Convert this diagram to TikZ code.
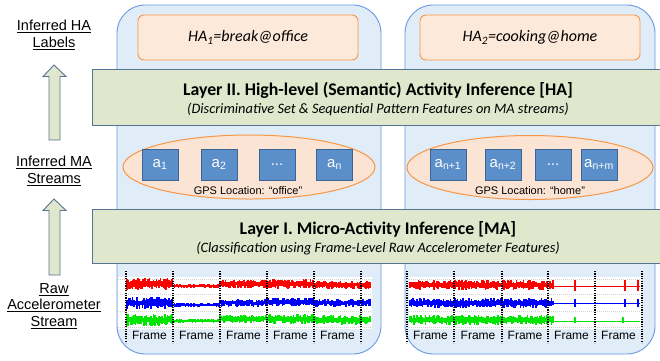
\documentclass[tikz,border=0pt]{standalone}
\usepackage{fontspec}
\setmainfont{Liberation Sans}
\newfontfamily\calfont{Carlito}
\usetikzlibrary{shapes.geometric}
\definecolor{contfill}{RGB}{224,237,248}
\definecolor{contdraw}{RGB}{104,152,226}
\definecolor{hafill}{RGB}{253,233,217}
\definecolor{hadraw}{RGB}{247,150,70}
\definecolor{bandfill}{RGB}{223,231,204}
\definecolor{banddraw}{RGB}{88,116,148}
\definecolor{sqfill}{RGB}{91,143,201}
\definecolor{sqdraw}{RGB}{58,100,150}
\definecolor{ellfill}{RGB}{252,228,213}
\definecolor{sigred}{RGB}{255,0,0}
\definecolor{sigblue}{RGB}{0,0,255}
\definecolor{siggreen}{RGB}{0,230,0}
\newcommand\sigseg[5]{%
  \pgfmathtruncatemacro\nn{(#2-#1)/1.4}%
  \draw[#4,line width=1pt] (#1,#3) -- (#2,#3);
  \foreach \k in {0,...,\nn}{%
    \pgfmathsetmacro\xx{#1+1.4*\k}%
    \pgfmathsetmacro\hu{#5*(0.35+0.65*rnd)}%
    \pgfmathsetmacro\hd{#5*(0.3+0.7*rnd)}%
    \draw[#4,line width=1.6pt] (\xx,#3-\hu) -- (\xx,#3+\hd);
  }}
\begin{document}
\begin{tikzpicture}[x=1pt,y=-1pt,
  container/.style={draw=contdraw,fill=contfill,line width=0.9pt,rounded corners=28pt},
  band/.style={draw=banddraw,fill=bandfill,line width=0.9pt},
  habox/.style={draw=hadraw,fill=hafill,line width=0.9pt,rounded corners=6pt,minimum width=220pt,minimum height=45pt,font=\calfont\itshape\fontsize{16}{18}\selectfont},
  ell/.style={ellipse,draw=hadraw,fill=ellfill,line width=1pt,minimum width=252pt,minimum height=64pt},
  sq/.style={draw=sqdraw,fill=sqfill,line width=0.8pt,minimum width=36pt,minimum height=31pt,text=white,font=\fontsize{15}{16}\selectfont,inner sep=0pt},
  gps/.style={font=\fontsize{11}{13}\selectfont},
  sidelab/.style={align=center,font=\fontsize{14.5}{16.5}\selectfont},
  ttl/.style={font=\calfont\bfseries\fontsize{17.8}{20}\selectfont},
  sub/.style={font=\calfont\itshape\fontsize{14.4}{16}\selectfont},
  uparrow/.style={draw=banddraw,fill=bandfill,line width=0.9pt},
  vdot/.style={black,line width=1.4pt,dash pattern=on 1.2pt off 1.2pt},
  framelab/.style={font=\fontsize{12}{13}\selectfont,inner sep=0pt},
  grid/.style={gray!35,line width=0.3pt,dash pattern=on 1pt off 1pt}
]
\useasboundingbox (0,0) rectangle (660,360);
\fill[white] (0,0) rectangle (660,360);
\pgfmathsetseed{11}

% side labels
\node[sidelab] (labHA) at (54,35) {\underline{Inferred HA}\\\underline{Labels}};
\node[sidelab] (labMA) at (54,171) {\underline{Inferred MA}\\\underline{Streams}};
\node[sidelab] (labRaw) at (54,306) {\underline{Raw}\\\underline{Accelerometer}\\\underline{Stream}};
% up arrows
\draw[uparrow] (54,65) -- (66,76.5) -- (60,76.5) -- (60,140) -- (49,140) -- (49,76.5) -- (43,76.5) -- cycle;
\draw[uparrow] (54,199) -- (66,210.5) -- (60,210.5) -- (60,275) -- (49,275) -- (49,210.5) -- (43,210.5) -- cycle;

% containers
\draw[container] (117,5) rectangle (381,354);
\draw[container] (405,5) rectangle (655,354);

% HA boxes
\node[habox] (ha1) at (248,37.5) {HA\textsubscript{1}=break@office};
\node[habox] (ha2) at (530,37.5) {HA\textsubscript{2}=cooking@home};

% Layer II band
\draw[band] (92,69) rectangle (666,125);
\node[ttl] (l2t) at (378,90) {Layer II. High-level (Semantic) Activity Inference [HA]};
\node[sub] (l2s) at (378,109) {(Discriminative Set \& Sequential Pattern Features on MA streams)};

% ellipses
\node[ell] (ell1) at (249,167) {};
\node[ell,minimum width=246pt] (ell2) at (530,167.5) {};
\node[sq] (a1) at (160,164.5) {a\textsubscript{1}};
\node[sq] (a2) at (219,164.5) {a\textsubscript{2}};
\node[sq] (a3) at (277,164.5) {...};
\node[sq] (an) at (334.5,164.5) {a\textsubscript{n}};
\node[sq] (b1) at (448,164.5) {a\textsubscript{n+1}};
\node[sq] (b2) at (503,164.5) {a\textsubscript{n+2}};
\node[sq] (b3) at (553,164.5) {...};
\node[sq] (bm) at (599,164.5) {a\textsubscript{n+m}};
\node[gps] (gps1) at (248,191) {GPS Location: “office”};
\node[gps] (gps2) at (530,191) {GPS Location: “home”};

% Layer I band
\draw[band] (92,209) rectangle (666,263);
\node[ttl] (l1t) at (378,229) {Layer I. Micro-Activity Inference [MA]};
\node[sub] (l1s) at (378,248) {(Classification using Frame-Level Raw Accelerometer Features)};

% accelerometer plots
\fill[white] (118,277) rectangle (372,329);
\fill[white] (409,277) rectangle (641,329);
\foreach \yy in {279,294,311,327}{
  \draw[grid] (118,\yy) -- (372,\yy);
  \draw[grid] (409,\yy) -- (641,\yy);
}
% left red
\sigseg{127}{173}{284}{sigred}{6.5}
\sigseg{173}{220}{286}{sigred}{2.2}
\sigseg{220}{267}{284}{sigred}{4.5}
\sigseg{267}{314}{284}{sigred}{5}
\sigseg{314}{371}{285}{sigred}{4.5}
% left blue
\sigseg{127}{173}{303}{sigblue}{6}
\sigseg{173}{220}{305}{sigblue}{2.4}
\sigseg{220}{267}{303}{sigblue}{4}
\sigseg{267}{314}{302}{sigblue}{4.5}
\sigseg{314}{371}{303}{sigblue}{4.2}
% left green
\sigseg{127}{173}{320}{siggreen}{6.5}
\sigseg{173}{220}{321}{siggreen}{2.2}
\sigseg{220}{267}{319}{siggreen}{4.5}
\sigseg{267}{314}{319}{siggreen}{5}
\sigseg{314}{371}{320}{siggreen}{4.8}
% right red
\sigseg{410}{553}{285}{sigred}{5}
\draw[sigred,line width=0.9pt] (553,286) -- (640,286);
% right blue
\sigseg{410}{553}{303}{sigblue}{5}
\draw[sigblue,line width=0.9pt] (553,303) -- (640,303);
% right green
\sigseg{410}{553}{320}{siggreen}{5}
\draw[siggreen,line width=0.7pt] (553,321) -- (640,321);
% spikes
\foreach \sx in {575,625,638}{
  \draw[sigred,line width=1.5pt] (\sx,280) -- (\sx,291);
  \draw[sigblue,line width=1.5pt] (\sx,299) -- (\sx,307);
}
\draw[siggreen,line width=1.5pt] (575,317) -- (575,323);
\draw[siggreen,line width=1.5pt] (623,317) -- (623,323);

% dotted frame separators
\foreach \vx in {126,173,220,267,314,361,407,454,502,548,595,642}{
  \draw[vdot] (\vx,271) -- (\vx,343);
}
% frame labels
\foreach \i/\fx in {1/149.5,2/196.5,3/243.5,4/290.5,5/337.5,6/430.5,7/478,8/525,9/571.5,10/618.5}{
  \node[framelab] (fr\i) at (\fx,335) {Frame};
}
\end{tikzpicture}
\end{document}
